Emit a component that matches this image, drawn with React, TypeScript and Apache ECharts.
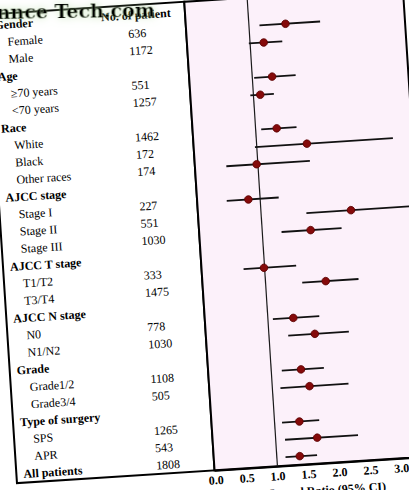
import React, { useEffect, useRef } from "react";
import * as echarts from "echarts";

// ---------- data ----------
const categories = [
  "Gender", "Female", "Male",
  "Age", "≥70 years", "<70 years",
  "Race", "White", "Black", "Other races",
  "AJCC stage", "Stage I", "Stage II", "Stage III",
  "AJCC T stage", "T1/T2", "T3/T4",
  "AJCC N stage", "N0", "N1/N2",
  "Grade", "Grade1/2", "Grade3/4",
  "Type of surgery", "SPS", "APR",
  "All patients",
];
const groupHeaders = [
  "Gender", "Age", "Race", "AJCC stage", "AJCC T stage",
  "AJCC N stage", "Grade", "Type of surgery", "All patients",
];
const patients = [
  null, 636, 1172,
  null, 551, 1257,
  null, 1462, 172, 174,
  null, 227, 551, 1030,
  null, 333, 1475,
  null, 778, 1030,
  null, 1108, 505,
  null, 1265, 543,
  1808,
];
const hazardRatio = [
  null, 1.59, 1.22,
  null, 1.32, 1.11,
  null, 1.34, 1.81, 0.98,
  null, 0.81, 2.45, 1.78,
  null, 0.99, 1.97,
  null, 1.41, 1.74,
  null, 1.48, 1.6,
  null, 1.4, 1.67,
  1.37,
];
const ciLow = [
  null, 1.17, 0.98,
  null, 1.03, 0.95,
  null, 1.09, 0.97, 0.49,
  null, 0.46, 1.73, 1.31,
  null, 0.66, 1.59,
  null, 1.08, 1.31,
  null, 1.17, 1.13,
  null, 1.12, 1.15,
  1.14,
];
const ciHigh = [
  null, 2.15, 1.52,
  null, 1.7, 1.33,
  null, 1.66, 3.2, 1.84,
  null, 1.3, 3.5, 2.28,
  null, 1.51, 2.5,
  null, 1.83, 2.29,
  null, 1.85, 2.23,
  null, 1.72, 2.33,
  1.65,
];
const xMin = 0;
const xMax = 3.5;
const xStep = 0.5;
const lastShownTick = 3.0;
const refValue = 1.0;
const columnTitle = "No. of patient";
const axisTitle = "Hazard Ratio (95% CI)";
const watermark = "nnce Tech.com";

// ---------- layout ----------
const OFF = 20;
const ROT = -3.7;
const FONT = "Liberation Serif";
const TEXT = "#000";

const ciRows = hazardRatio
  .map((hr, i) => (hr == null ? null : [hr, i, ciLow[i], ciHigh[i]]))
  .filter((r) => r !== null) as number[][];

const tableRows = categories.map((_, i) => [0, i]);

const option: any = {
  animation: false,
  backgroundColor: "transparent",
  grid: { left: OFF + 201, top: OFF + 3.5, width: 217, height: 467, containLabel: false },
  xAxis: {
    type: "value",
    min: xMin,
    max: xMax,
    interval: xStep,
    axisLine: { show: true, lineStyle: { color: "#000", width: 2 } },
    axisTick: { show: false },
    splitLine: { show: false },
    axisLabel: {
      margin: 4,
      color: TEXT,
      fontFamily: FONT,
      fontWeight: "bold",
      fontSize: 12,
      formatter: (v: number) => (v > lastShownTick + 1e-9 ? "" : v.toFixed(1)),
    },
    name: axisTitle,
    nameLocation: "middle",
    nameGap: 18,
    nameTextStyle: { color: TEXT, fontFamily: FONT, fontWeight: "bold", fontSize: 12 },
  },
  yAxis: {
    type: "category",
    data: categories,
    inverse: true,
    show: false,
  },
  graphic: [
    {
      type: "rect",
      z: -5,
      shape: { x: OFF + 2, y: OFF + 1, width: 198, height: 469.5 },
      style: { fill: "#fff", stroke: "#000", lineWidth: 2 },
      silent: true,
    },
    {
      type: "rect",
      z: -5,
      shape: { x: OFF + 200, y: OFF + 1, width: 219, height: 469.5 },
      style: { fill: "#fcf1fa", stroke: "#000", lineWidth: 2 },
      silent: true,
    },
    {
      type: "text",
      z: 50,
      x: OFF + 12,
      y: OFF - 1,
      rotation: -0.05,
      silent: true,
      style: {
        text: watermark,
        fontFamily: "DejaVu Serif",
        fontWeight: "bold",
        fontSize: 19,
        fill: "#000",
        verticalAlign: "middle",
        align: "left",
        textShadowColor: "rgba(180,220,160,0.8)",
        textShadowBlur: 8,
      },
    },
  ],
  series: [
    {
      type: "custom",
      name: "table",
      clip: false,
      silent: true,
      data: tableRows,
      encode: { x: 0, y: 1 },
      renderItem: (params: any, api: any) => {
        const i = params.dataIndex;
        const y = api.coord([0, i])[1];
        const isHeader = groupHeaders.indexOf(categories[i]) >= 0;
        const children: any[] = [
          {
            type: "text",
            x: OFF + (isHeader ? 9 : 21),
            y,
            style: {
              text: categories[i],
              fontFamily: FONT,
              fontSize: 12,
              fontWeight: isHeader ? "bold" : "normal",
              fill: TEXT,
              align: "left",
              verticalAlign: "middle",
            },
          },
        ];
        if (patients[i] != null) {
          children.push({
            type: "text",
            x: OFF + 142,
            y,
            style: {
              text: String(patients[i]),
              fontFamily: FONT,
              fontSize: 12,
              fill: TEXT,
              align: "left",
              verticalAlign: "middle",
            },
          });
        }
        if (i === 0) {
          children.push({
            type: "text",
            x: OFF + 116,
            y: y - 1,
            style: {
              text: columnTitle,
              fontFamily: FONT,
              fontSize: 12,
              fontWeight: "bold",
              fill: TEXT,
              align: "left",
              verticalAlign: "middle",
            },
          });
        }
        return { type: "group", children };
      },
    },
    {
      type: "custom",
      name: "reference",
      clip: false,
      silent: true,
      data: [[refValue, 0]],
      encode: { x: 0, y: 1 },
      renderItem: (params: any, api: any) => {
        const cs = params.coordSys;
        const x = api.coord([api.value(0), 0])[0];
        return {
          type: "line",
          shape: { x1: x, y1: cs.y - 2, x2: x, y2: cs.y + cs.height },
          style: { stroke: "#1a1a1a", lineWidth: 1.2 },
        };
      },
    },
    {
      type: "custom",
      name: "HR",
      clip: false,
      silent: true,
      z: 5,
      data: ciRows,
      encode: { x: [0, 2, 3], y: 1 },
      renderItem: (params: any, api: any) => {
        const row = ciRows[params.dataIndex];
        const p = api.coord([row[0], row[1]]);
        const lo = api.coord([row[2], row[1]]);
        const hi = api.coord([row[3], row[1]]);
        return {
          type: "group",
          children: [
            {
              type: "line",
              shape: { x1: lo[0], y1: p[1], x2: hi[0], y2: p[1] },
              style: { stroke: "#111", lineWidth: 1.8 },
            },
            {
              type: "circle",
              shape: { cx: p[0], cy: p[1], r: 3.8 },
              style: { fill: "#850a0a", stroke: "#5a0000", lineWidth: 0.8 },
            },
          ],
        };
      },
    },
  ],
};

export default function App() {
  const ref = useRef<HTMLDivElement>(null);
  useEffect(() => {
    if (!ref.current) return;
    const chart = echarts.init(ref.current, null, { renderer: "svg" });
    chart.setOption(option);
    return () => chart.dispose();
  }, []);
  return (
    <div
      style={{
        position: "fixed",
        left: 0,
        top: 0,
        width: 409,
        height: 490,
        overflow: "hidden",
        background: "#fff",
      }}
    >
      <div
        ref={ref}
        style={{
          position: "absolute",
          left: -OFF,
          top: -OFF,
          width: 470,
          height: 540,
          transform: `rotate(${ROT}deg)`,
          transformOrigin: `${204.5 + OFF}px ${245 + OFF}px`,
        }}
      />
    </div>
  );
}
